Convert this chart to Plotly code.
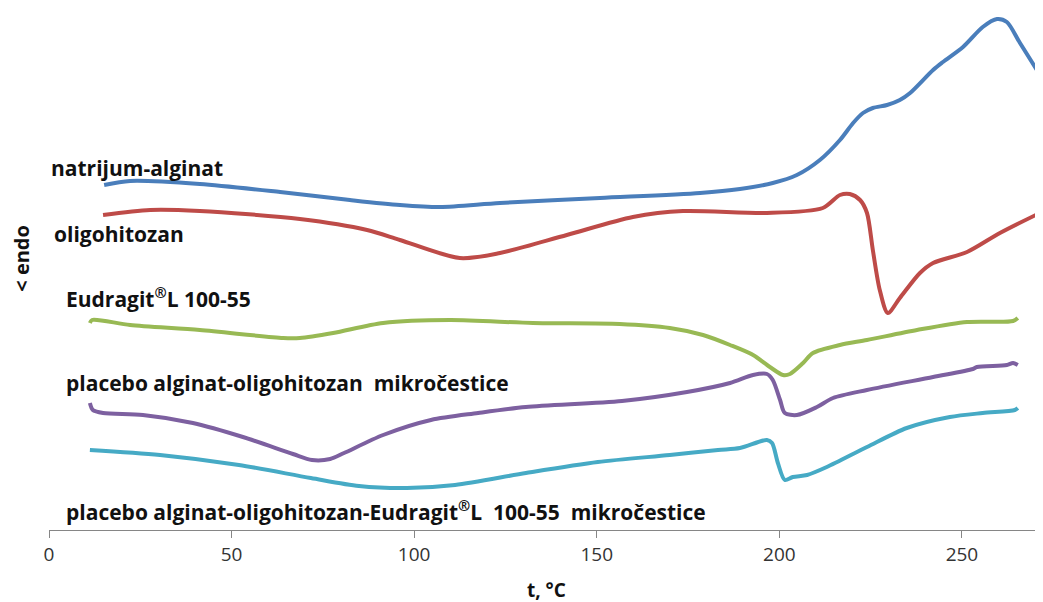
import plotly.graph_objects as go

# DSC thermograms, heat flow in arbitrary units (endo down)
t_alginat = [15.1, 22.2, 41.3, 63.3, 82.4, 96.1, 107.1, 123.5, 150.9, 178.3, 189.2, 198.2, 204.8,
             211.1, 216.6, 220.2, 222.9, 225.6, 229.5, 233.0, 235.8, 242.1, 244.8, 250.3, 255.7,
             259.6, 262.3, 265.9, 271.9]
q_alginat = [345, 349, 346, 338, 330, 325, 323, 327, 332, 337, 341, 347, 355,
             370, 390, 407, 417, 422, 425, 430, 437, 460, 468, 483, 503,
             511, 508, 487, 452]

t_oligo = [14.8, 27.7, 41.3, 68.7, 87.1, 96.1, 112.5, 123.5, 141.8, 159.9, 173.6, 196.6, 211.9,
           216.6, 219.3, 222.1, 224.0, 225.6, 227.5, 229.7, 233.0, 238.5, 242.1, 251.4, 260.4, 271.9]
q_oligo = [315, 320, 319, 311, 300, 290, 272, 277, 295, 313, 319, 317, 322,
           335, 336, 330, 317, 280, 240, 217, 232, 257, 267, 278, 297, 318]

t_eudragit = [11.2, 11.8, 22.2, 41.3, 64.1, 68.7, 77.8, 91.5, 109.8, 132.5, 156.3, 170.0, 179.1,
              186.5, 192.8, 197.4, 201.0, 202.9, 206.5, 209.2, 216.6, 224.0, 237.7, 251.4, 264.0, 265.3]
q_eudragit = [207, 210, 205, 200, 192, 192, 197, 207, 210, 207, 206, 202, 195,
              185, 175, 163, 155, 156, 167, 177, 185, 190, 200, 208, 209, 212]

t_placebo = [11.2, 12.0, 14.8, 25.7, 39.4, 53.1, 66.8, 72.0, 77.0, 80.8, 91.5, 104.6, 117.5,
             130.6, 156.9, 174.7, 186.5, 192.8, 196.6, 198.2, 200.2, 201.5, 204.8, 210.3, 214.7,
             224.0, 242.1, 253.0, 254.1, 262.3, 264.0, 265.3]
q_placebo = [127, 120, 117, 115, 107, 93, 76, 70, 71, 77, 95, 110, 117,
             123, 129, 138, 147, 155, 156, 150, 130, 117, 115, 123, 132,
             140, 153, 161, 163, 165, 167, 165]

t_placebo_eu = [11.2, 30.4, 52.0, 71.7, 84.9, 98.0, 111.2, 130.6, 150.3, 170.0, 183.2, 189.2, 196.6,
                198.0, 199.6, 201.5, 203.7, 207.6, 213.0, 224.0, 234.9, 246.7, 255.7, 264.5, 265.3]
q_placebo_eu = [80, 75, 65, 52, 44, 42, 45, 57, 68, 75, 80, 82, 90,
                87, 67, 50, 53, 55, 63, 83, 102, 113, 117, 120, 122]

series = [
    ("natrijum-alginat", t_alginat, q_alginat, "#4A7EBB"),
    ("oligohitozan", t_oligo, q_oligo, "#BE4B48"),
    ("Eudragit®L 100-55", t_eudragit, q_eudragit, "#98B954"),
    ("placebo alginat-oligohitozan mikročestice", t_placebo, q_placebo, "#7D60A0"),
    ("placebo alginat-oligohitozan-Eudragit®L 100-55 mikročestice", t_placebo_eu, q_placebo_eu, "#46AAC5"),
]

# curve labels and where they sit (t, heat flow)
labels = [
    ("natrijum-alginat", 0.8, 362),
    ("oligohitozan", 1.6, 296),
    ("Eudragit<sup>®</sup>L 100-55", 4.9, 233),
    ("placebo alginat-oligohitozan  mikročestice", 4.9, 147),
    ("placebo alginat-oligohitozan-Eudragit<sup>®</sup>L  100-55  mikročestice", 4.9, 20),
]

fig = go.Figure()
for name, t, q, col in series:
    fig.add_trace(go.Scatter(x=t, y=q, mode="lines", name=name,
                             line=dict(color=col, width=4, shape="spline", smoothing=0.8)))

for txt, x, y in labels:
    fig.add_annotation(x=x, y=y, text="<b>" + txt.replace(" ", "&nbsp;") + "</b>", showarrow=False,
                       xanchor="left", yanchor="middle", xshift=-3,
                       font=dict(family="Open Sans", size=21, color="#111"))

# page body has an 8px margin, so the figure is sized 8px smaller than the window
fig.add_annotation(xref="paper", yref="paper", x=0.5, y=-0.115, text="<b>t, °C</b>",
                   showarrow=False, xanchor="center", yanchor="middle",
                   font=dict(family="Open Sans", size=19, color="#111"))
fig.add_annotation(xref="paper", yref="paper", x=-0.028, y=0.52, text="<b>&lt; endo</b>",
                   textangle=-90, showarrow=False, xanchor="center", yanchor="middle",
                   font=dict(family="Open Sans", size=20, color="#111"))

fig.update_layout(
    width=1035, height=594,
    margin=dict(l=41, r=0, t=0, b=72),
    paper_bgcolor="white", plot_bgcolor="white",
    showlegend=False,
    font=dict(family="Open Sans"),
)
fig.update_xaxes(range=[0, 272.2], tickvals=[0, 50, 100, 150, 200, 250],
                 showline=True, linecolor="#868686", linewidth=1,
                 ticks="outside", ticklen=7, tickcolor="#868686",
                 showgrid=False, zeroline=False,
                 tickfont=dict(family="Open Sans", size=19, color="#333"))
fig.update_yaxes(range=[0, 522], visible=False)

fig.write_html("out.html")
